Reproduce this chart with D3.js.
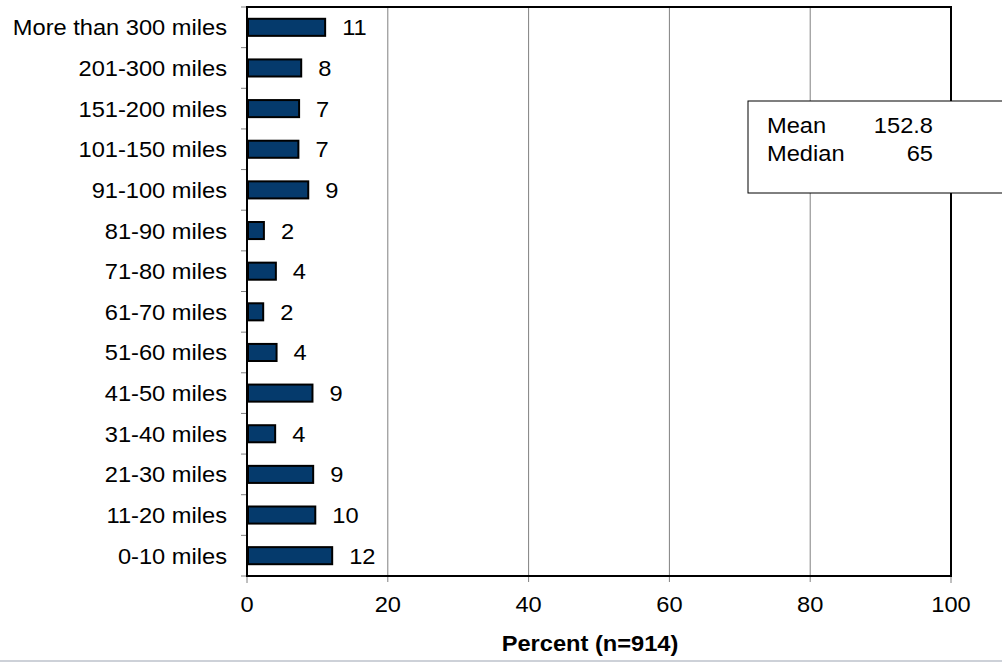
<!DOCTYPE html>
<html><head><meta charset="utf-8">
<script src="https://cdn.jsdelivr.net/npm/d3@7"></script>
<style>body{margin:0;background:#fff}svg{display:block}text{font-family:Arial,"Liberation Sans",sans-serif;fill:#000}</style>
</head><body>
<svg id="c" width="1002" height="662"></svg>
<script>
const categories = ["More than 300 miles","201-300 miles","151-200 miles","101-150 miles","91-100 miles","81-90 miles","71-80 miles","61-70 miles","51-60 miles","41-50 miles","31-40 miles","21-30 miles","11-20 miles","0-10 miles"];
const values = [11.1, 7.7, 7.4, 7.3, 8.7, 2.4, 4.1, 2.3, 4.2, 9.3, 4.0, 9.4, 9.7, 12.1];
const xTicks = [0, 20, 40, 60, 80, 100];
const statLabels = ["Mean", "Median"];
const statValues = ["152.8", "65"];
const xTitle = "Percent (n=914)";

const svg = d3.select("#c");
const SX = 1.1;
const L = 247, R = 951, T = 7, B = 576;
const x = d3.scaleLinear().domain([0, 100]).range([L, R]);
const y = d3.scaleBand().domain(categories).range([T, B]).paddingInner(0.58).paddingOuter(0.29);

function txt(g, px, py, s, anchor, size, weight) {
  return g.append("text").attr("transform", `translate(${px},${py}) scale(${SX},1)`)
    .attr("text-anchor", anchor).style("font-size", size + "px").style("font-weight", weight || "normal").text(s);
}

// gridlines
svg.append("g").selectAll("line").data(xTicks.slice(1, -1)).join("line")
  .attr("x1", d => x(d)).attr("x2", d => x(d)).attr("y1", T).attr("y2", B + 6)
  .attr("stroke", "#808080").attr("stroke-width", 1);

// x ticks
svg.append("g").selectAll("line").data([0, 100]).join("line")
  .attr("x1", d => x(d)).attr("x2", d => x(d)).attr("y1", B).attr("y2", B + 7)
  .attr("stroke", "#808080").attr("stroke-width", 1);

// y ticks at band boundaries
const bounds = d3.range(categories.length + 1).map(i => T + i * (B - T) / categories.length);
svg.append("g").selectAll("line").data(bounds).join("line")
  .attr("x1", L - 6).attr("x2", L).attr("y1", d => d).attr("y2", d => d)
  .attr("stroke", "#808080").attr("stroke-width", 1);

// frame
svg.append("rect").attr("x", L).attr("y", T).attr("width", R - L).attr("height", B - T)
  .attr("fill", "none").attr("stroke", "#000").attr("stroke-width", 2);

// bars
svg.append("g").selectAll("rect").data(categories).join("rect")
  .attr("x", x(0) + 1).attr("y", d => y(d))
  .attr("width", (d, i) => x(values[i]) - x(0) - 1).attr("height", y.bandwidth())
  .attr("fill", "#053a6c").attr("stroke", "#000").attr("stroke-width", 2);

// value labels
const lg = svg.append("g");
categories.forEach((c, i) => {
  txt(lg, x(values[i]) + 17, y(c) + y.bandwidth() / 2 + 8, String(Math.round(values[i])), "start", 21.5);
});

// category labels
const cg = svg.append("g");
categories.forEach(c => {
  txt(cg, 227, y(c) + y.bandwidth() / 2 + 8, c, "end", 21.5);
});

// x tick labels
const tg = svg.append("g");
xTicks.forEach(t => txt(tg, x(t), 612, String(t), "middle", 21.5));

// x title
txt(svg, 590, 651, xTitle, "middle", 21.5, "bold");

// stats box
svg.append("rect").attr("x", 748).attr("y", 101).attr("width", 270).attr("height", 92)
  .attr("fill", "#fff").attr("stroke", "#000").attr("stroke-width", 1);
const sg = svg.append("g");
statLabels.forEach((s, i) => {
  txt(sg, 767, 133 + i * 28, s, "start", 21.5);
  txt(sg, 933, 133 + i * 28, statValues[i], "end", 21.5);
});

// bottom gray line
svg.append("rect").attr("x", 0).attr("y", 660).attr("width", 1002).attr("height", 2).attr("fill", "#cdd1d8");
</script>
</body></html>
